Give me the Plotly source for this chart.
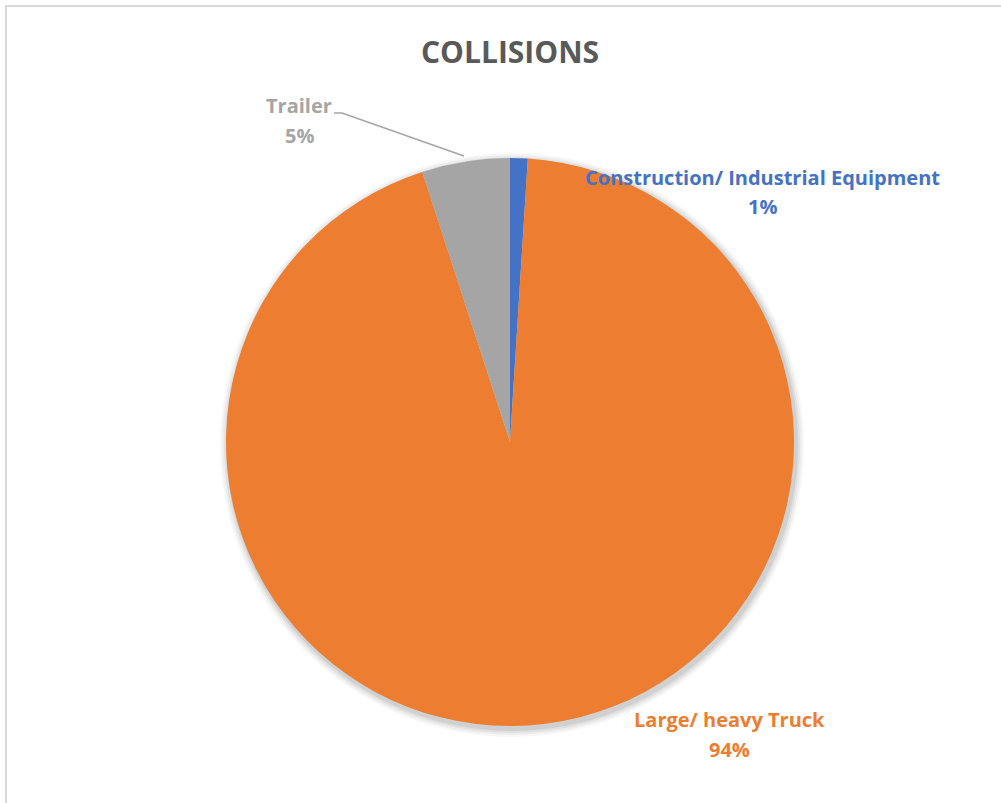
import plotly.graph_objects as go

W, H = 1001, 803

categories = ["Construction/ Industrial Equipment", "Large/ heavy Truck", "Trailer"]
values = [1, 94, 5]
colors = ["#4472C4", "#ED7D31", "#A5A5A5"]
title_text = "COLLISIONS"

# label centre positions (pixels): (x, y of name line, y of percent line)
label_pos = [(762, 177, 207), (729, 719, 749), (299, 106, 135)]

def px(x):
    return x / W

def py(y):
    return 1 - y / H

cx, cy, r = 510, 442, 284

shapes = [
    # chart border
    dict(type="rect", xref="paper", yref="paper",
         x0=px(6), x1=1.05, y0=-0.05, y1=py(6),
         line=dict(color="#D9D9D9", width=2), layer="below"),
]
# soft drop shadow behind the pie
for grow, op in [(8, 0.03), (6, 0.04), (4, 0.05), (2, 0.07)]:
    sx, sy = cx + 2, cy + 3
    shapes.append(dict(type="circle", xref="paper", yref="paper",
                       x0=px(sx - r - grow), x1=px(sx + r + grow),
                       y0=py(sy + r + grow), y1=py(sy - r - grow),
                       fillcolor="black", opacity=op, line=dict(width=0),
                       layer="below"))
# leader line for Trailer
shapes.append(dict(type="path", xref="paper", yref="paper",
                   path=f"M {px(334)} {py(113)} L {px(342)} {py(113)} L {px(464)} {py(156)}",
                   line=dict(color="#A5A5A5", width=1.5)))

fig = go.Figure()
fig.add_trace(go.Pie(
    labels=categories,
    values=values,
    marker=dict(colors=colors, line=dict(color="white", width=0)),
    sort=False,
    direction="clockwise",
    rotation=0,
    textinfo="none",
    hoverinfo="label+percent",
    showlegend=False,
    domain=dict(x=[px(cx - r), px(cx + r)], y=[py(cy + r), py(cy - r)]),
))

total = sum(values)
annotations = []
for cat, v, col, (lx, ly1, ly2) in zip(categories, values, colors, label_pos):
    pct = round(100 * v / total)
    for txt, ly in ((cat, ly1), (f"{pct}%", ly2)):
        annotations.append(dict(
            x=px(lx), y=py(ly), xref="paper", yref="paper",
            text=f"<b>{txt}</b>",
            showarrow=False, align="center",
            font=dict(family="Open Sans", size=20, color=col),
            xanchor="center", yanchor="middle",
        ))

annotations.append(dict(
    x=px(510), y=py(51), xref="paper", yref="paper",
    text=f"<b>{title_text}</b>", showarrow=False,
    font=dict(family="Open Sans", size=30, color="#595959"),
    xanchor="center", yanchor="middle",
))

fig.update_layout(
    width=W, height=H,
    margin=dict(l=0, r=0, t=0, b=0),
    paper_bgcolor="white",
    plot_bgcolor="white",
    annotations=annotations,
    shapes=shapes,
)

fig.write_html("out.html", config={"displayModeBar": False},
               post_script="document.body.style.margin='0px';")
